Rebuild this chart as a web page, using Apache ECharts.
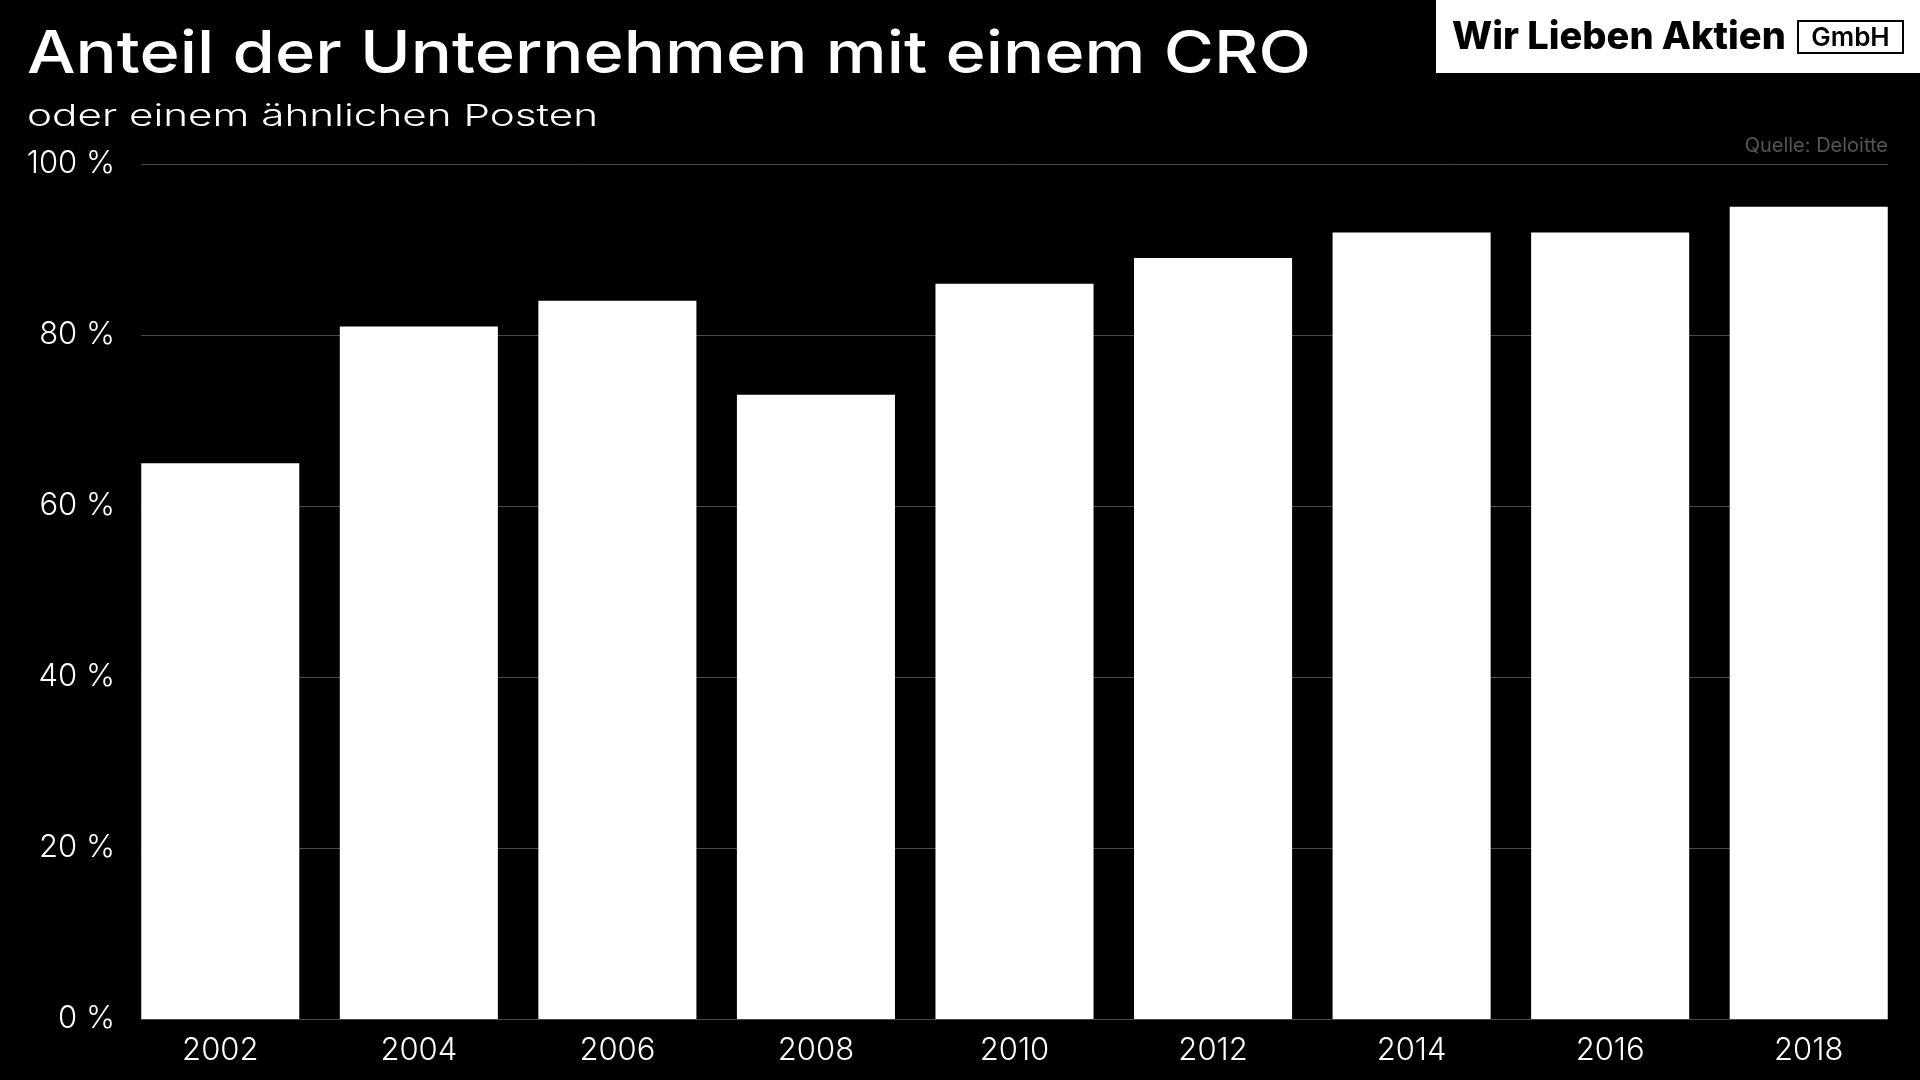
<!DOCTYPE html>
<html>
<head>
<meta charset="utf-8">
<script src="https://cdn.jsdelivr.net/npm/echarts@6/dist/echarts.min.js"></script>
<style>
html,body{margin:0;padding:0;background:#000;}
#chart{width:1920px;height:1080px;}
</style>
</head>
<body>
<div id="chart"></div>
<script>
var categories = ['2002','2004','2006','2008','2010','2012','2014','2016','2018'];
var shareValues = [65, 81, 84, 73, 86, 89, 92, 92, 95];
var yTicks = [0, 20, 40, 60, 80, 100];
var titleText = 'Anteil der Unternehmen mit einem CRO';
var subtitleText = 'oder einem ähnlichen Posten';
var sourceText = 'Quelle: Deloitte';

var FONT = 'Inter, "Open Sans", "Noto Sans", sans-serif';
var TITLE_FONT = '500 59px ' + FONT;
var SUB_FONT = '300 30px ' + FONT;

function measure(txt, font) {
  var c = document.createElement('canvas').getContext('2d');
  c.font = font;
  return c.measureText(txt).width;
}
var titleScale = 1284 / measure(titleText, TITLE_FONT);
var subScale = 571 / measure(subtitleText, SUB_FONT);

var chart = echarts.init(document.getElementById('chart'));
chart.setOption({
  backgroundColor: '#000000',
  animation: false,
  title: [
    {text: sourceText, right: 27, top: 131,
     textStyle: {color: '#555555', fontFamily: FONT, fontSize: 20, fontWeight: 400}}
  ],
  graphic: [
    {type: 'text', x: 27, y: 55, scaleX: titleScale, style: {text: titleText, fill: '#ffffff',
      font: TITLE_FONT, textVerticalAlign: 'middle', textAlign: 'left'}},
    {type: 'text', x: 27, y: 117, scaleX: subScale, style: {text: subtitleText, fill: '#ffffff',
      font: SUB_FONT, textVerticalAlign: 'middle', textAlign: 'left'}},
    {type: 'rect', shape: {x: 1436, y: 0, width: 484, height: 73}, style: {fill: '#ffffff'}},
    {type: 'text', x: 1452, y: 38, style: {text: 'Wir Lieben Aktien', fill: '#000000',
      font: '800 38px ' + FONT, textVerticalAlign: 'middle', textAlign: 'left'}},
    {type: 'rect', shape: {x: 1798, y: 21, width: 105, height: 32},
      style: {fill: 'none', stroke: '#000000', lineWidth: 2}},
    {type: 'text', x: 1850.5, y: 38, style: {text: 'GmbH', fill: '#000000',
      font: '600 26px ' + FONT, textVerticalAlign: 'middle', textAlign: 'center'}}
  ],
  grid: [
    {left: 141, right: 32, top: 164, bottom: 61},
    {left: 121, right: 12, top: 164, bottom: 61}
  ],
  xAxis: [
    {type: 'category', gridIndex: 0, data: categories, show: false},
    {type: 'category', gridIndex: 1, data: categories,
     axisLine: {show: false}, axisTick: {show: false},
     axisLabel: {color: '#ffffff', fontFamily: FONT, fontSize: 31, fontWeight: 300, margin: 16}}
  ],
  yAxis: [
    {type: 'value', gridIndex: 0, min: 0, max: 100, interval: 20,
     axisLine: {show: false}, axisTick: {show: false},
     axisLabel: {color: '#ffffff', fontFamily: FONT, fontSize: 31, fontWeight: 300, margin: 26,
       formatter: function (v) { return yTicks.indexOf(v) >= 0 ? v + ' %' : ''; }},
     splitLine: {show: true, lineStyle: {color: '#4a4a4a', width: 1}}},
    {type: 'value', gridIndex: 1, min: 0, max: 100, interval: 20, show: false,
     splitLine: {show: false}}
  ],
  series: [
    {type: 'bar', xAxisIndex: 1, yAxisIndex: 1, data: shareValues,
     barCategoryGap: '20.4%', itemStyle: {color: '#ffffff'}, z: 3}
  ]
});
</script>
</body>
</html>
